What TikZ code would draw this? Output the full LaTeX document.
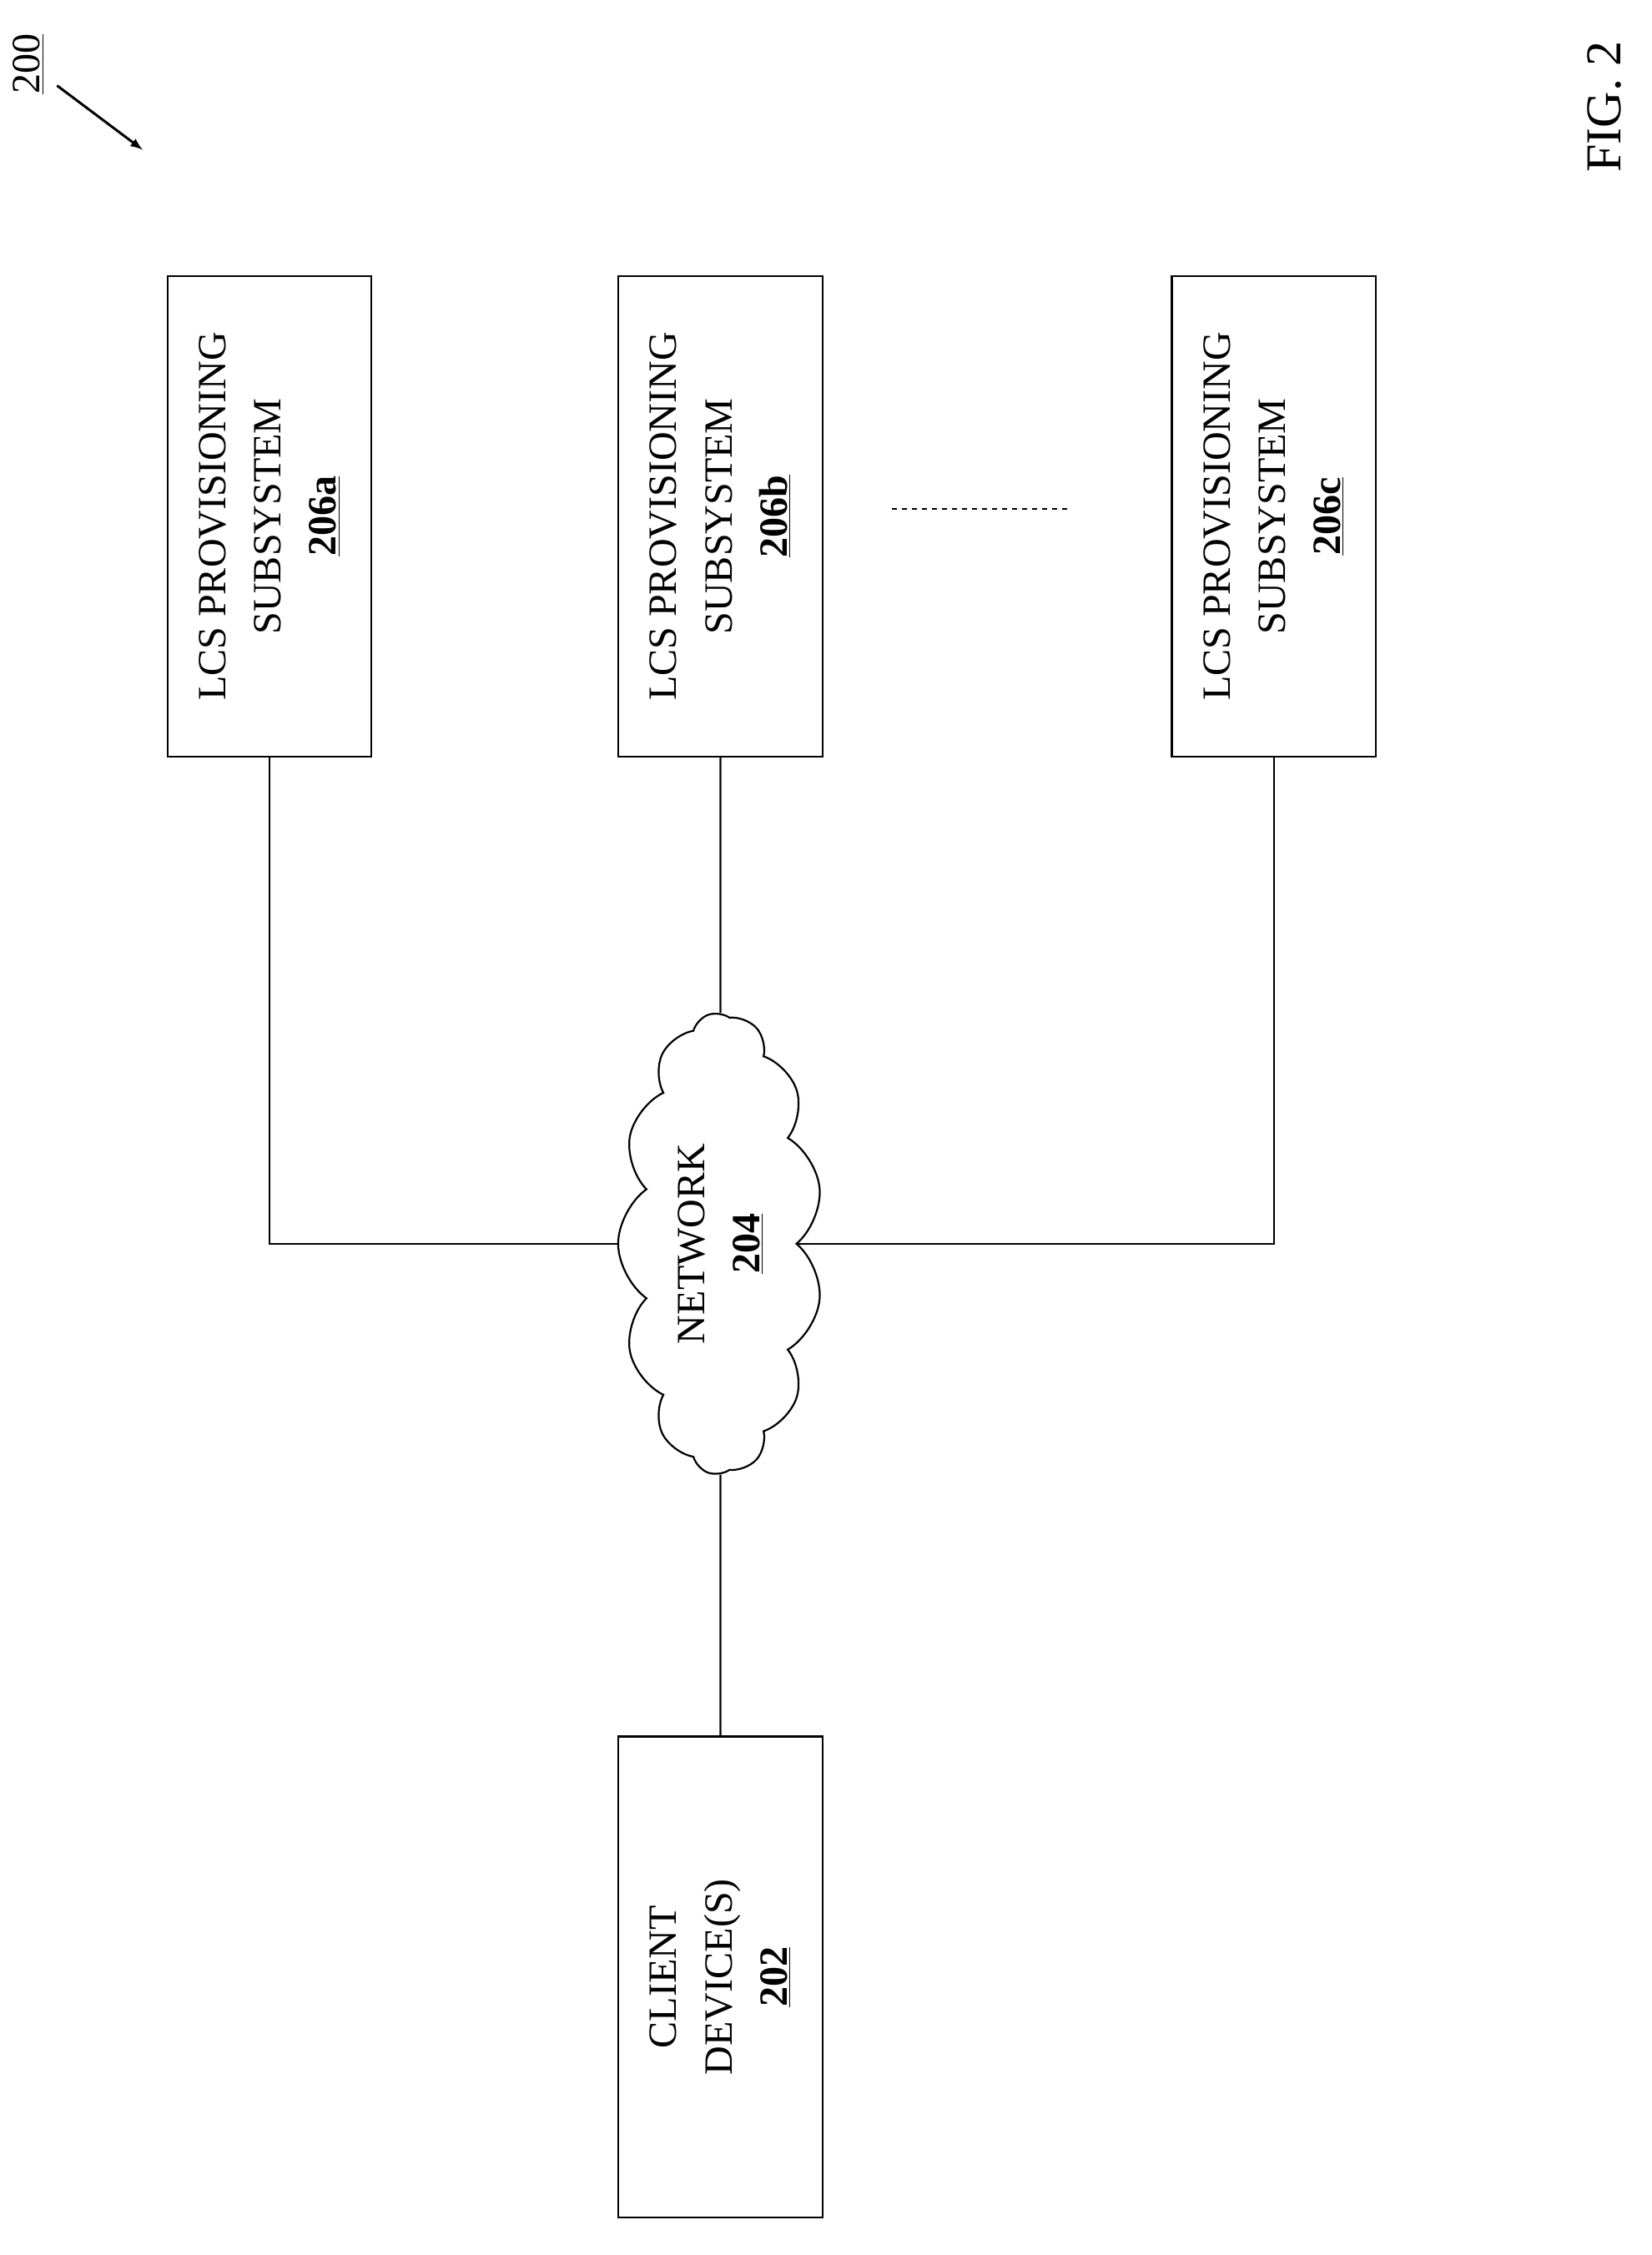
\documentclass[tikz,border=0pt]{standalone}
\usepackage{fontspec}
\setmainfont{Liberation Serif}
\usetikzlibrary{positioning,shapes.symbols}

\begin{document}
\begin{tikzpicture}[x=0.03cm,y=-0.03cm,line width=1.1pt,
  every node/.style={font=\fontsize{24}{33}\selectfont},
  box/.style={draw,rotate=90,align=center,minimum width=10.11cm,minimum height=4.29cm,inner sep=0pt}]

  % page frame
  \useasboundingbox (0,0) rectangle (1158,1581);

  % Subsystem boxes
  \node[box] (sysa) at (189,362) {LCS PROVISIONING\\SUBSYSTEM\\\underline{\textbf{206a}}};
  \node[box] (sysb) at (505,362) {LCS PROVISIONING\\SUBSYSTEM\\\underline{\textbf{206b}}};
  \node[box] (sysc) at (893,362) {LCS PROVISIONING\\SUBSYSTEM\\\underline{\textbf{206c}}};

  % Client box
  \node[box] (client) at (505,1386) {CLIENT\\DEVICE(S)\\\underline{\textbf{202}}};

  % Network cloud
  \node[draw,cloud,cloud puffs=13,cloud puff arc=110,aspect=2.3,rotate=90,
        minimum width=9.7cm,minimum height=4.3cm] (net) at (505,872) {};
  \node[rotate=90,align=center] (netlabel) at (505,872) {NETWORK\\\underline{\textbf{204}}};

  % Connectors
  \draw (sysa.west) |- (net);
  \draw (sysb.west) -- (net);
  \draw (sysc.west) |- (net);
  \draw (client.east) -- (net);

  % Dots between boxes
  \coordinate (dashl) at (625,357);
  \coordinate (dashr) at (748,357);
  \draw[dashed] (dashl) -- (dashr);

  % Figure labels
  \node[rotate=90] (ref) at (20,45) {\underline{200}};
  \coordinate (refend) at (100,105);
  \draw[-latex,line width=1.5pt] (40,60) -- (refend);
  \node[rotate=90,font=\fontsize{30}{36}\selectfont] (fig) at (1125,75) {FIG. 2};

\end{tikzpicture}
\end{document}
